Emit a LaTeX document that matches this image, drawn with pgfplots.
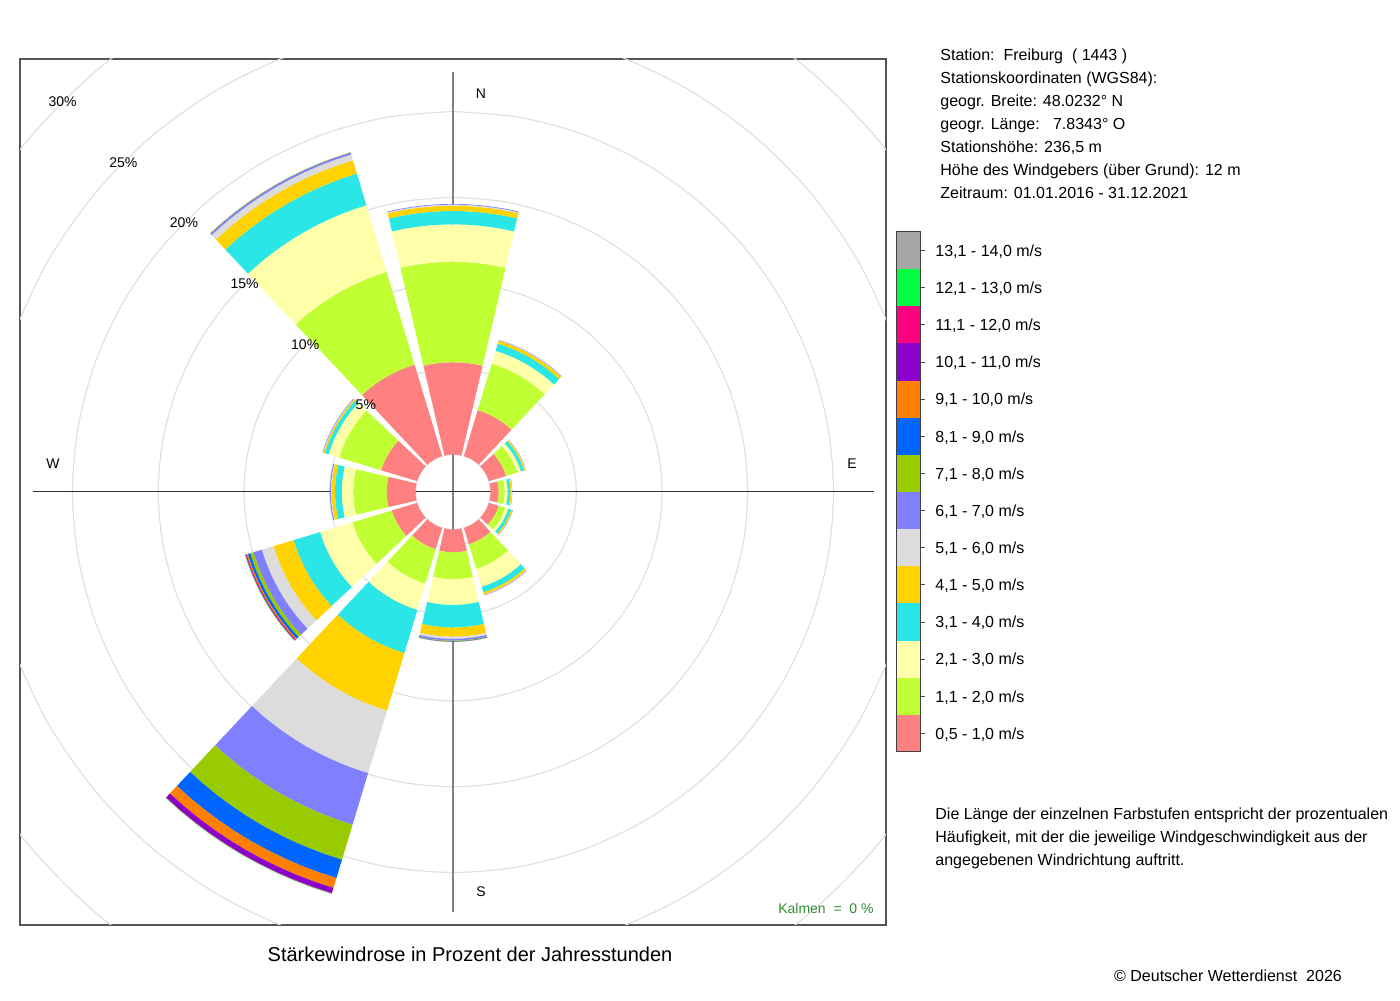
\documentclass[border=0pt]{standalone}
\usepackage{pgfplots}
\pgfplotsset{compat=1.18}
\usepackage{pgfplotstable}
\usepackage{fontspec}
\setmainfont{Liberation Sans}

\newcommand{\eightpt}{\fontsize{8}{9.6}\selectfont}
\newcommand{\sevenpt}{\fontsize{7}{8.4}\selectfont}
\newcommand{\tenpt}{\fontsize{10}{12}\selectfont}

\definecolor{wc1}{HTML}{FF8080}
\definecolor{wc2}{HTML}{C0FF33}
\definecolor{wc3}{HTML}{FFFFAA}
\definecolor{wc4}{HTML}{2AE6E6}
\definecolor{wc5}{HTML}{FFD200}
\definecolor{wc6}{HTML}{DCDCDC}
\definecolor{wc7}{HTML}{8080FF}
\definecolor{wc8}{HTML}{99CC00}
\definecolor{wc9}{HTML}{0066FF}
\definecolor{wc10}{HTML}{FF8000}
\definecolor{wc11}{HTML}{8C00CC}
\definecolor{wc12}{HTML}{FF0080}
\definecolor{wc13}{HTML}{00FF40}
\definecolor{wc14}{HTML}{A6A6A6}
\definecolor{gridgray}{HTML}{E0E0E0}
\definecolor{framegray}{HTML}{555555}
\definecolor{kalmen}{HTML}{2E8B2E}

% cumulative frequency (percent) at the outer edge of each speed class, per direction
\pgfplotstableread{
dir c1 c2 c3 c4 c5 c6 c7 c8 c9 c10 c11 c12 c13 c14
0   5.38 11.24 13.42 14.20 14.51 14.57 14.61 14.61 14.61 14.61 14.61 14.61 14.61 14.61
30  2.80 5.63 6.41 6.85 7.03 7.06 7.08 7.08 7.08 7.08 7.08 7.08 7.08 7.08
60  1.05 1.72 1.95 2.14 2.22 2.25 2.26 2.26 2.26 2.26 2.26 2.26 2.26 2.26
90  0.48 0.83 1.00 1.16 1.23 1.26 1.27 1.27 1.27 1.27 1.27 1.27 1.27 1.27
120 0.60 1.00 1.18 1.36 1.44 1.46 1.47 1.47 1.47 1.47 1.47 1.47 1.47 1.47
150 1.00 2.50 3.59 3.92 4.05 4.09 4.11 4.11 4.11 4.11 4.11 4.11 4.11 4.11
180 1.33 2.90 4.40 5.72 6.25 6.38 6.48 6.51 6.54 6.55 6.55 6.55 6.55 6.55
210 1.30 3.40 5.00 7.63 11.14 14.94 18.08 20.21 21.33 21.93 22.24 22.27 22.29 22.29
240 1.55 3.94 5.91 7.53 8.75 9.46 9.97 10.17 10.32 10.40 10.44 10.47 10.49 10.49
270 1.68 3.63 4.30 4.69 4.89 4.94 4.99 4.99 4.99 4.99 4.99 4.99 4.99 4.99
300 2.19 4.75 5.39 5.62 5.71 5.74 5.77 5.77 5.77 5.77 5.77 5.77 5.77 5.77
330 5.57 11.22 15.28 17.21 18.02 18.37 18.49 18.51 18.51 18.51 18.51 18.51 18.51 18.51
}\windrose

% angular outline of one sector band: outer arc (f=1), inner arc back (f=0)
\pgfplotstableread{
a f
-13.2 1
-10.56 1
-7.92 1
-5.28 1
-2.64 1
0 1
2.64 1
5.28 1
7.92 1
10.56 1
13.2 1
13.2 0
10.56 0
7.92 0
5.28 0
2.64 0
0 0
-2.64 0
-5.28 0
-7.92 0
-10.56 0
-13.2 0
}\arcpts

% angles of the grid circles
\pgfplotstableread{
a f
0 1
10 1
20 1
30 1
40 1
50 1
60 1
70 1
80 1
90 1
100 1
110 1
120 1
130 1
140 1
150 1
160 1
170 1
180 1
190 1
200 1
210 1
220 1
230 1
240 1
250 1
260 1
270 1
280 1
290 1
300 1
310 1
320 1
330 1
340 1
350 1
360 1
}\circpts

\begin{document}
\begin{tikzpicture}
\path[use as bounding box] (0,0) rectangle (700pt,500pt);

\begin{axis}[
  at={(10pt,37.5pt)}, anchor=south west,
  scale only axis, width=433pt, height=433pt,
  xmin=-433, xmax=433, ymin=-433, ymax=433,
  ticks=none,
  axis line style={draw=framegray, line width=0.6pt},
  clip=true,
]
% grid circles (0%, 5%, ..., 30%)
\foreach \R in {37.5,123.25,209,294.75,380.5,466.25,552}{%
  \edef\tmp{\noexpand\addplot[draw=gridgray, line width=0.6pt, smooth, forget plot]
    table[x expr={\R*sin(\noexpand\thisrow{a})}, y expr={\R*cos(\noexpand\thisrow{a})}]{\noexpand\circpts};}%
  \tmp
}
% cross lines
\addplot[draw=black!50, line width=0.75pt, forget plot] coordinates {(0,-420) (0,420)};
\addplot[draw=black!80, line width=0.5pt, forget plot] coordinates {(-420,0) (421,0)};

% sectors
\foreach \i in {0,...,11}{%
  \pgfplotstablegetelem{\i}{dir}\of\windrose
  \let\wdir\pgfplotsretval
  \gdef\wlo{0}%
  \foreach \k in {1,...,14}{%
    \pgfplotstablegetelem{\i}{c\k}\of\windrose
    \let\whi\pgfplotsretval
    \ifdim\whi pt>\wlo pt
      \edef\tmp{\noexpand\addplot[fill=wc\k, draw=none, forget plot]
        table[x expr={(37.5+17.15*(\noexpand\thisrow{f}*\whi+(1-\noexpand\thisrow{f})*\wlo))*sin(\wdir+\noexpand\thisrow{a})},
              y expr={(37.5+17.15*(\noexpand\thisrow{f}*\whi+(1-\noexpand\thisrow{f})*\wlo))*cos(\wdir+\noexpand\thisrow{a})}]
        {\noexpand\arcpts};}%
      \tmp
    \fi
    \xdef\wlo{\whi}%
  }%
}

% labels
\node[font=\sevenpt] at (axis cs:28,398) {N};
\node[font=\sevenpt] at (axis cs:399,28) {E};
\node[font=\sevenpt] at (axis cs:28,-400) {S};
\node[font=\sevenpt] at (axis cs:-400,28) {W};
\node[font=\sevenpt] at (axis cs:-87.15,87.15) {5\%};
\node[font=\sevenpt] at (axis cs:-147.79,147.79) {10\%};
\node[font=\sevenpt] at (axis cs:-208.42,208.42) {15\%};
\node[font=\sevenpt] at (axis cs:-269.05,269.05) {20\%};
\node[font=\sevenpt] at (axis cs:-329.69,329.69) {25\%};
\node[font=\sevenpt] at (axis cs:-390.32,390.32) {30\%};
\node[font=\sevenpt, text=kalmen, anchor=east, inner sep=0pt] at (axis cs:421,-416) {Kalmen\ \ =\ \ 0 \%};
\end{axis}

% colour bar legend
\begin{axis}[
  at={(448pt,124pt)}, anchor=south west,
  scale only axis, width=12pt, height=260pt,
  xmin=0, xmax=1, ymin=0, ymax=14,
  xtick=\empty, ytick=\empty,
  axis line style={draw=black!75, line width=0.5pt},
  axis on top, clip=false,
]
\foreach \k in {1,...,14}{%
  \pgfmathtruncatemacro\kl{\k-1}%
  \pgfmathsetmacro\km{\k-0.5}%
  \edef\tmp{\noexpand\addplot[fill=wc\k, draw=none, forget plot] coordinates {(0,\kl) (1,\kl) (1,\k) (0,\k)};
    \noexpand\addplot[draw=black!70, line width=0.4pt, forget plot] coordinates {(1,\km) (1.21,\km)};}%
  \tmp
}
\tikzset{lab/.style={anchor=base west, inner sep=0pt, xshift=7.5pt, yshift=-2.9pt, font=\eightpt}}
\node[lab] at (axis cs:1,0.5) {0,5 - 1,0 m/s};
\node[lab] at (axis cs:1,1.5) {1,1 - 2,0 m/s};
\node[lab] at (axis cs:1,2.5) {2,1 - 3,0 m/s};
\node[lab] at (axis cs:1,3.5) {3,1 - 4,0 m/s};
\node[lab] at (axis cs:1,4.5) {4,1 - 5,0 m/s};
\node[lab] at (axis cs:1,5.5) {5,1 - 6,0 m/s};
\node[lab] at (axis cs:1,6.5) {6,1 - 7,0 m/s};
\node[lab] at (axis cs:1,7.5) {7,1 - 8,0 m/s};
\node[lab] at (axis cs:1,8.5) {8,1 - 9,0 m/s};
\node[lab] at (axis cs:1,9.5) {9,1 - 10,0 m/s};
\node[lab] at (axis cs:1,10.5) {10,1 - 11,0 m/s};
\node[lab] at (axis cs:1,11.5) {11,1 - 12,0 m/s};
\node[lab] at (axis cs:1,12.5) {12,1 - 13,0 m/s};
\node[lab] at (axis cs:1,13.5) {13,1 - 14,0 m/s};
\end{axis}

% station information
\begin{scope}[every node/.style={anchor=base west, inner sep=0pt, font=\eightpt}]
\node at (470pt,469.65pt) {Station:\ \ Freiburg\ \ (\ 1443\ )};
\node at (470pt,458.2pt) {Stationskoordinaten (WGS84):};
\node at (470pt,446.75pt) {geogr. Breite: 48.0232° N};
\node at (470pt,435.3pt) {geogr. Länge:\ \ \ 7.8343° O};
\node at (470pt,423.8pt) {Stationshöhe: 236,5 m};
\node at (470pt,412.35pt) {Höhe des Windgebers (über Grund): 12 m};
\node at (470pt,400.85pt) {Zeitraum: 01.01.2016 - 31.12.2021};
\node at (467.5pt,90.15pt) {Die Länge der einzelnen Farbstufen entspricht der prozentualen};
\node at (467.5pt,78.65pt) {Häufigkeit, mit der die jeweilige Windgeschwindigkeit aus der};
\node at (467.5pt,67.15pt) {angegebenen Windrichtung auftritt.};
\end{scope}
\node[anchor=base, inner sep=0pt, font=\tenpt] at (235pt,19.5pt) {Stärkewindrose in Prozent der Jahresstunden};
\node[anchor=base, inner sep=0pt, font=\eightpt] at (614pt,9.25pt) {© Deutscher Wetterdienst\ \ 2026};
\end{tikzpicture}
\end{document}
